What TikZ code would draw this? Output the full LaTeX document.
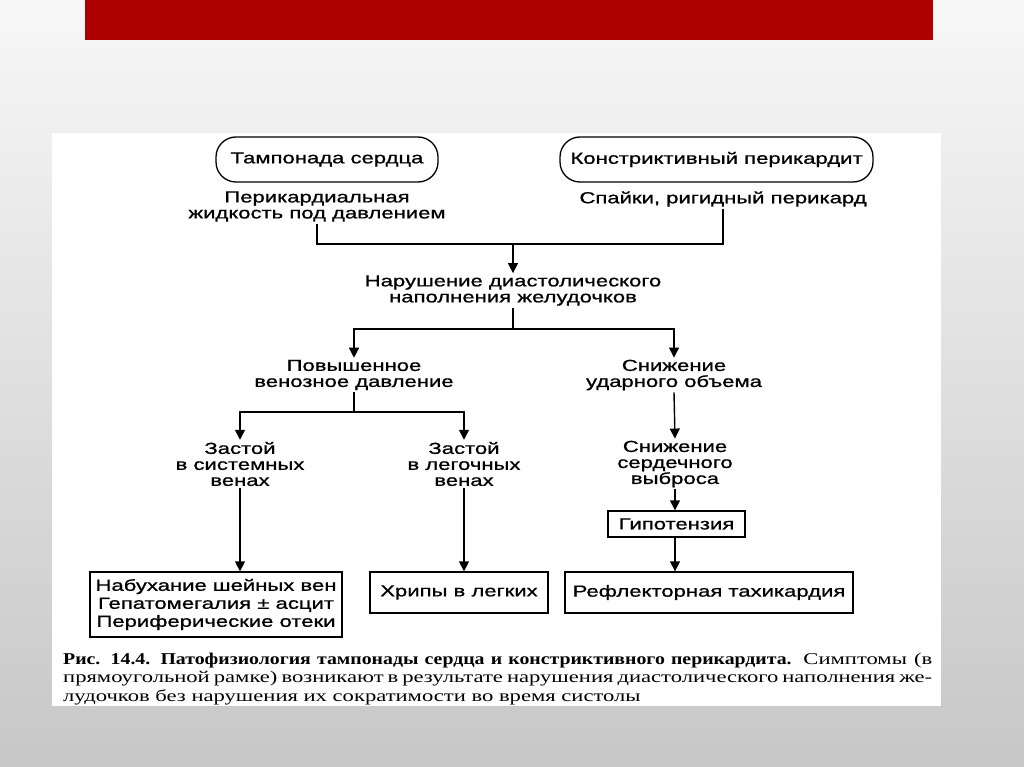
\documentclass[tikz,border=0pt]{standalone}
\usepackage{fontspec}
\setmainfont{Liberation Serif}
\newfontfamily\schemafont[FakeStretch=1.38,FakeBold=0.9]{Liberation Sans}
\newfontfamily\legendfont[FakeStretch=1.37]{Liberation Serif}
\newfontfamily\legendbold[FakeStretch=1.2]{Liberation Serif Bold}
\usetikzlibrary{arrows.meta}

\definecolor{barred}{HTML}{AD0000}

\tikzset{
  txt/.style={font=\schemafont\fontsize{16}{16}\selectfont, align=center, inner sep=2pt},
  pill/.style={txt, draw, line width=1.3pt, rounded corners=20pt, inner sep=0pt},
  symbox/.style={txt, draw, line width=1.3pt, inner sep=0pt},
  link/.style={line width=1.4pt},
  arr/.style={link, -{Triangle[length=10pt,width=10pt]}},
  legline/.style={anchor=west, inner sep=0pt, font=\legendfont\fontsize{16.5}{18}\selectfont}
}

\begin{document}
\begin{tikzpicture}[x=1pt,y=-1pt]

% Fond
\useasboundingbox (0,0) rectangle (1024,767);
\fill[top color=white!97!black, bottom color=white!78!black] (0,0) rectangle (1024,767);
\fill[barred] (85,0) rectangle (933,40);
\fill[white] (52,133) rectangle (941,706);

% Causes
\node[pill, minimum width=222pt, minimum height=45pt] (tamp) at (327,159.5) {Тампонада сердца};
\node[pill, minimum width=313pt, minimum height=45pt] (konstr) at (716.5,159.5) {Констриктивный перикардит};

\node[txt] (perik) at (317,206.5) {Перикардиальная\\жидкость под давлением};
\node[txt] (spayki) at (723,199) {Спайки, ригидный перикард};

% Mecanisme
\node[txt] (narush) at (513,290.5) {Нарушение диастолического\\наполнения желудочков};

\node[txt] (vendav) at (354,375) {Повышенное\\венозное давление};
\node[txt] (udar) at (674,375) {Снижение\\ударного объема};

\node[txt] (sist) at (240,464) {Застой\\в системных\\венах};
\node[txt] (leg) at (464,464) {Застой\\в легочных\\венах};
\node[txt] (vybros) at (675,464) {Снижение\\сердечного\\выброса};

\node[symbox, minimum width=137pt, minimum height=26pt] (gipo) at (676.5,524) {Гипотензия};

% Symptomes
\node[symbox, minimum width=252pt, minimum height=65pt,
      font=\schemafont\fontsize{16}{18}\selectfont] (simpt) at (216,604.5)
  {Набухание шейных вен\\Гепатомегалия ± асцит\\Периферические отеки};
\node[symbox, minimum width=178pt, minimum height=41pt] (hrip) at (459,592.5) {Хрипы в легких};
\node[symbox, minimum width=288pt, minimum height=41pt] (taxi) at (709,592.5) {Рефлекторная тахикардия};

% Fleches
\coordinate (j1) at (513,244);
\coordinate (j2) at (513,329);
\coordinate (j3) at (354,412);

\draw[link] (perik.south) |- (j1);
\draw[link] (spayki.south) |- (j1);
\draw[arr] (j1) -- (narush.north);

\draw[link] (narush.south) -- (j2);
\draw[arr] (j2) -| (vendav.north);
\draw[arr] (j2) -| (udar.north);

\draw[link] (vendav.south) -- (j3);
\draw[arr] (j3) -| (sist.north);
\draw[arr] (j3) -| (leg.north);

\draw[arr] (sist.south) -- (sist.south |- simpt.north);
\draw[arr] (leg.south) -- (leg.south |- hrip.north);

\draw[arr] (udar.south) -- (vybros.north);
\draw[arr] (vybros.south) -- (vybros.south |- gipo.north);
\draw[arr] (gipo.south -| vybros.south) -- (vybros.south |- taxi.north);

% Legende
\node[legline] (leg1) at (63,661)
  {\makebox[869pt][s]{{\legendbold Рис. 14.4. Патофизиология тампонады сердца и констриктивного перикардита.} Симптомы (в}};
\node[legline] (leg2) at (63,679)
  {\makebox[869pt][s]{прямоугольной рамке) возникают в результате нарушения диастолического наполнения же-}};
\node[legline] (leg3) at (63,697)
  {лудочков без нарушения их сократимости во время систолы};

\end{tikzpicture}
\end{document}
